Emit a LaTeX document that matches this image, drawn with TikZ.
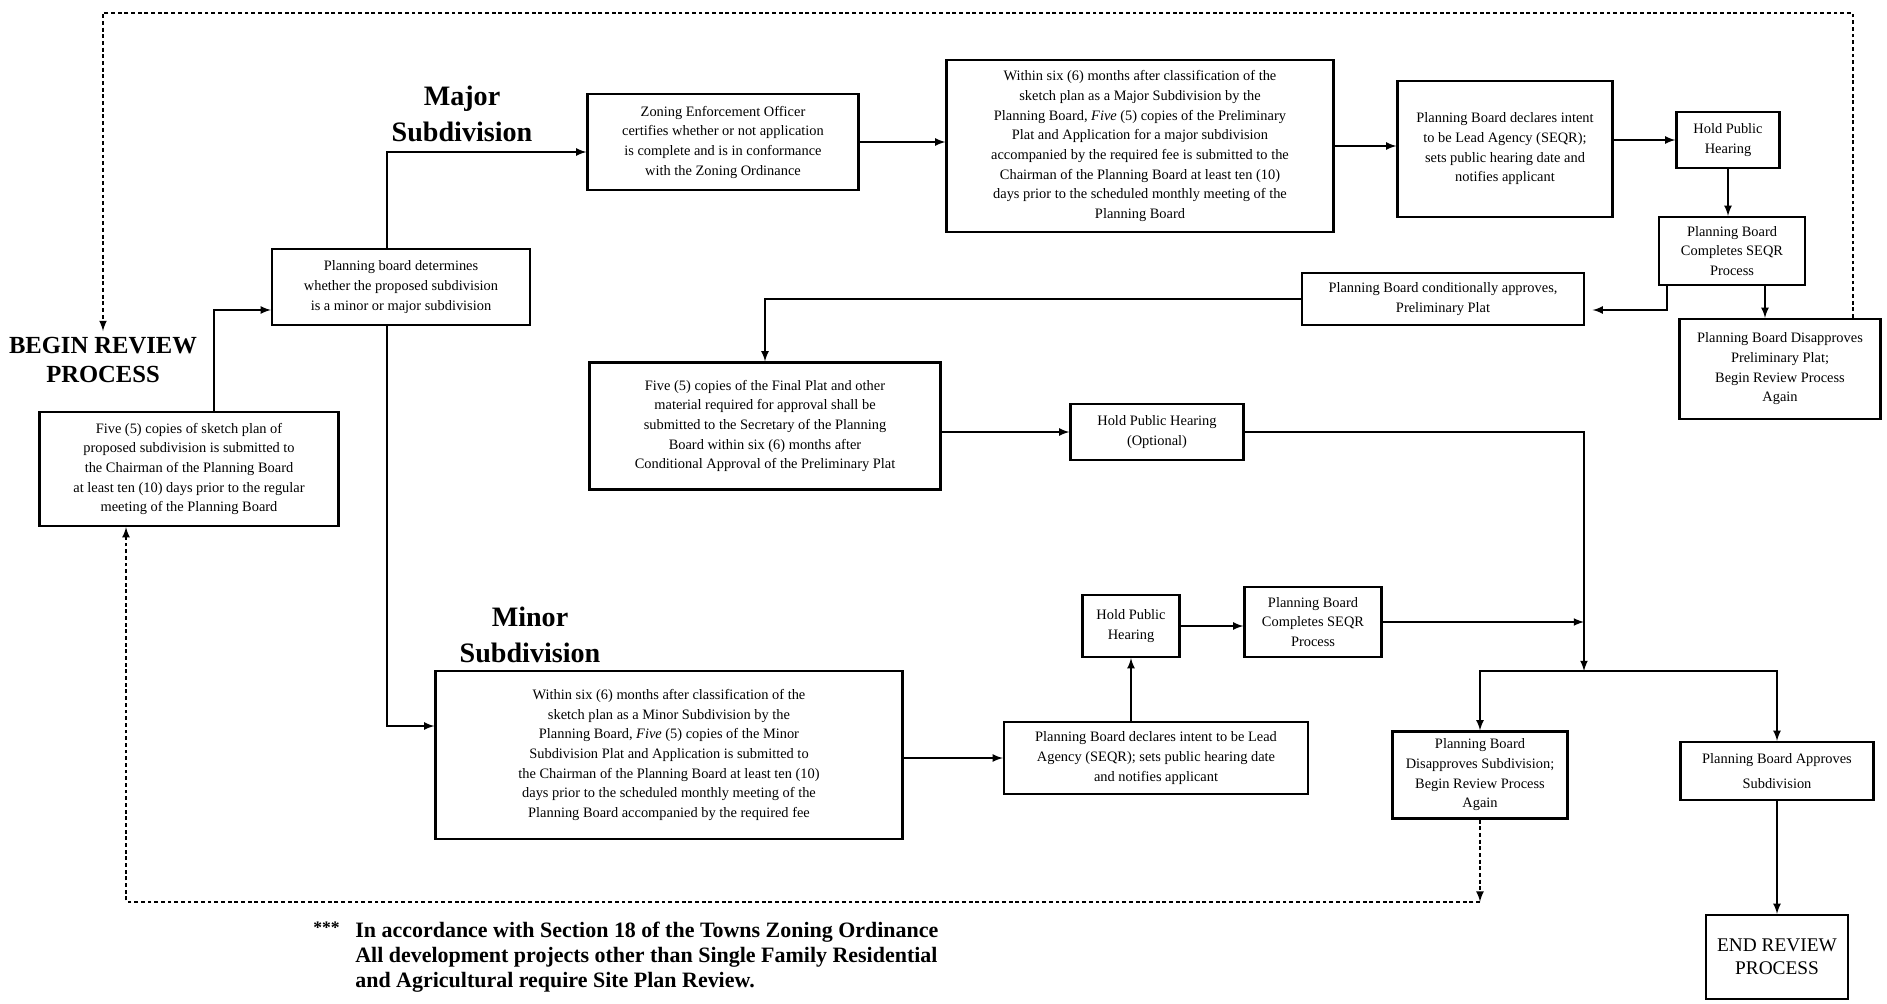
\documentclass[tikz,border=0pt]{standalone}
\usepackage{fontspec}
\setmainfont{Liberation Serif}
\usepackage{tikz}
\usetikzlibrary{arrows,positioning,calc}
\newcommand{\boxfont}{\fontsize{8.2}{11.2}\selectfont}

\begin{document}
\begin{tikzpicture}[x=0.02cm, y=-0.02cm, >=latex,
    box/.style={draw, line width=1.3pt, align=center, inner sep=2pt, font=\boxfont},
    flow/.style={->, line width=1pt},
    loopback/.style={->, line width=1pt, dash pattern=on 2.2pt off 1.6pt},
    heading/.style={align=center, font=\bfseries\fontsize{16}{20.4}\selectfont}]
    \useasboundingbox (0,0) rectangle (1887,1004);

    % Start
    \node[align=center, font=\bfseries\fontsize{14}{16.5}\selectfont] (begin) at (103,360) {BEGIN REVIEW\\PROCESS};
    \node[box, minimum width=5.98cm, minimum height=2.28cm] (sketch) at (189,469) {Five (5) copies of sketch plan of\\proposed subdivision is submitted to\\the Chairman of the Planning Board\\at least ten (10) days prior to the regular\\meeting of the Planning Board};
    \node[box, minimum width=5.16cm, minimum height=1.52cm] (plan) at (401,287) {Planning board determines\\whether the proposed subdivision\\is a minor or major subdivision};

    % Major branch
    \node[heading] (majorlbl) at (462,114) {Major\\Subdivision};
    \node[box, minimum width=5.42cm, minimum height=1.92cm] (zoning) at (723,142) {Zoning Enforcement Officer\\certifies whether or not application\\is complete and is in conformance\\with the Zoning Ordinance};
    \node[box, minimum width=7.74cm, minimum height=3.44cm] (within) at (1140,146) {Within six (6) months after classification of the\\sketch plan as a Major Subdivision by the\\Planning Board, \textit{Five} (5) copies of the Preliminary\\Plat and Application for a major subdivision\\accompanied by the required fee is submitted to the\\Chairman of the Planning Board at least ten (10)\\days prior to the scheduled monthly meeting of the\\Planning Board};
    \node[box, minimum width=4.3cm, minimum height=2.72cm] (leadmaj) at (1505,149) {Planning Board declares intent\\to be Lead Agency (SEQR);\\sets public hearing date and\\notifies applicant};
    \node[box, minimum width=2.06cm, minimum height=1.12cm] (hearmaj) at (1728,140) {Hold Public\\Hearing};
    \node[box, minimum width=2.92cm, minimum height=1.36cm] (seqrmaj) at (1732,251) {Planning Board\\Completes SEQR\\Process};
    \node[box, minimum width=5.64cm, minimum height=1.04cm] (condapp) at (1443,299) {Planning Board conditionally approves,\\Preliminary Plat};
    \node[box, minimum width=4.02cm, minimum height=2.0cm] (disprelim) at (1780,369) {Planning Board Disapproves\\Preliminary Plat;\\Begin Review Process\\Again};
    \node[box, minimum width=7.02cm, minimum height=2.54cm] (final) at (765,426) {Five (5) copies of the Final Plat and other\\material required for approval shall be\\submitted to the Secretary of the Planning\\Board within six (6) months after\\Conditional Approval of the Preliminary Plat};
    \node[box, minimum width=3.46cm, minimum height=1.12cm] (hearopt) at (1157,432) {Hold Public Hearing\\(Optional)};

    % Minor branch
    \node[heading] (minorlbl) at (530,635) {Minor\\Subdivision};
    \node[box, minimum width=9.34cm, minimum height=3.36cm] (minor) at (669,755) {Within six (6) months after classification of the\\sketch plan as a Minor Subdivision by the\\Planning Board, \textit{Five} (5) copies of the Minor\\Subdivision Plat and Application is submitted to\\the Chairman of the Planning Board at least ten (10)\\days prior to the scheduled monthly meeting of the\\Planning Board accompanied by the required fee};
    \node[box, minimum width=6.08cm, minimum height=1.44cm] (leadmin) at (1156,758) {Planning Board declares intent to be Lead\\Agency (SEQR); sets public hearing date\\and notifies applicant};
    \node[box, minimum width=1.94cm, minimum height=1.24cm] (hearmin) at (1131,626) {Hold Public\\Hearing};
    \node[box, minimum width=2.74cm, minimum height=1.4cm] (seqrmin) at (1313,622) {Planning Board\\Completes SEQR\\Process};

    % Decision
    \node[box, minimum width=3.5cm, minimum height=1.74cm] (dissub) at (1480,775) {Planning Board\\Disapproves Subdivision;\\Begin Review Process\\Again};
    \node[box, minimum width=3.86cm, minimum height=1.16cm] (approves) at (1777,771) {Planning Board Approves\\[3.5pt]Subdivision};
    \node[box, minimum width=2.84cm, minimum height=1.68cm, font=\fontsize{11}{13}\selectfont] (endrev) at (1777,957) {END REVIEW\\PROCESS};

    % Note
    \node[anchor=north west, align=left, inner sep=0pt, font=\bfseries\fontsize{12.5}{14.2}\selectfont] (note) at (355,922) {In accordance with Section 18 of the Towns Zoning Ordinance\\All development projects other than Single Family Residential\\and Agricultural require Site Plan Review.};
    \node[anchor=north east, inner sep=0pt, font=\bfseries\fontsize{10}{12}\selectfont] (stars) at ([xshift=-0.3cm]note.north west) {***};

    % Connectors
    \coordinate (split) at (1584,671);
    \coordinate (sq) at ([xshift=0.66cm]seqrmaj.south);
    \draw[flow] ([xshift=0.5cm]sketch.north) |- ([yshift=-0.46cm]plan.west);
    \draw[flow] ([xshift=-0.28cm]plan.north) |- ([yshift=-0.2cm]zoning.west);
    \draw[flow] ([xshift=-0.28cm]plan.south) |- ([yshift=0.58cm]minor.west);
    \draw[flow] (zoning.east) -- (zoning.east -| within.west);
    \draw[flow] (within.east) -- (within.east -| leadmaj.west);
    \draw[flow] (leadmaj.east |- hearmaj.west) -- (hearmaj.west);
    \draw[flow] (hearmaj.south) -- (hearmaj.south |- seqrmaj.north);
    \draw[flow] ([xshift=-1.3cm]seqrmaj.south) |- ([yshift=-0.22cm,xshift=0.15cm]condapp.east);
    \draw[flow] (sq) -- (sq |- disprelim.north);
    \draw[flow] (condapp.west) -| (final.north);
    \draw[flow] (hearopt.west -| final.east) -- (hearopt.west);
    \draw[flow] (hearopt.east) -| (split);
    \draw[flow] (minor.east |- leadmin.west) -- (leadmin.west);
    \draw[flow] (hearmin.south |- leadmin.north) -- (hearmin.south);
    \draw[flow] (hearmin.east) -- (hearmin.east -| seqrmin.west);
    \draw[flow] (seqrmin.east) -- (seqrmin.east -| split);
    \draw[flow] (split) -| (dissub.north);
    \draw[flow] (split) -| (approves.north);
    \draw[flow] (approves.south) -- (approves.south |- endrev.north);

    % Review again
    \draw[loopback] ([xshift=1.46cm]disprelim.north) -- ++(0,6.1cm) -| (begin.north);
    \draw[loopback] (dissub.south) -- ++(0,-1.64cm) coordinate (loopc);
    \draw[loopback] (loopc) -| ([xshift=-1.26cm]sketch.south);
\end{tikzpicture}
\end{document}
